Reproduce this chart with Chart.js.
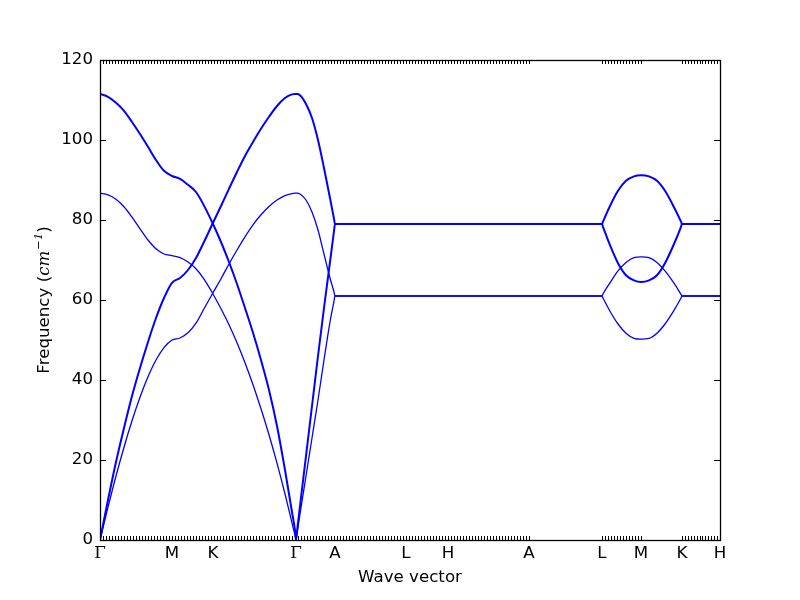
<!DOCTYPE html>
<html>
<head>
<meta charset="utf-8">
<script src="https://cdn.jsdelivr.net/npm/chart.js@4.4.0/dist/chart.umd.min.js"></script>
<style>
  html, body { margin: 0; padding: 0; background: #ffffff; }
</style>
</head>
<body>
<canvas id="bandChart" width="800" height="600"></canvas>
<script>
// high symmetry points along the path (distance units)
const kLabels = ["Γ", "M", "K", "Γ", "A", "L", "H", "A", "L", "M", "K", "H"];
const kLabelPos = [0, 0.72, 1.13, 1.96, 2.35, 3.06, 3.48, 4.29, 5.02, 5.41, 5.82, 6.2];

// sampled path positions, shared by every band
const kPath = [
  0, 0.08, 0.16, 0.24, 0.32, 0.40, 0.48, 0.56, 0.64, 0.72,
  0.80, 0.88, 0.96, 1.04, 1.13,
  1.21, 1.29, 1.37, 1.45, 1.53, 1.61, 1.69, 1.77, 1.85, 1.92, 1.95, 1.96, 1.97,
  2.00, 2.06, 2.12, 2.18, 2.24, 2.30, 2.34, 2.35,
  3.06, 3.48, 4.29, 5.02,
  5.03, 5.10, 5.18, 5.26, 5.34, 5.41,
  5.49, 5.57, 5.65, 5.74, 5.81, 5.82,
  6.20
];

// frequencies (cm^-1)
const bandA = [
  111.5, 110.8, 109.3, 107.3, 104.5, 101.5, 98.3, 95, 92.3, 91,
  90.3, 88.8, 87, 83.6, 79,
  74.5, 69.5, 64, 58, 51.8, 45, 37.5, 28.5, 17.5, 7, 2.4, 0, 2.1,
  8.5, 21, 33.5, 46, 58, 69.5, 77.2, 79,
  79, 79, 79, 79,
  79.6, 83.5, 87.3, 89.8, 90.9, 91.2,
  90.9, 89.8, 87.3, 83.2, 79.6, 79,
  79
];
const bandB = [
  0, 10, 19.5, 28, 36, 43, 49.5, 55.5, 60.5, 64.3,
  65.5, 67.5, 70.5, 74.5, 79.3,
  83.5, 87.8, 92, 96, 99.5, 102.8, 105.8, 108.5, 110.5, 111.4, 111.5, 111.5, 111.5,
  111.2, 109, 105.5, 100, 93, 85.5, 80.3, 79,
  79, 79, 79, 79,
  78.3, 73.7, 69.2, 66.2, 64.9, 64.5,
  64.9, 66.2, 69.2, 74, 78.3, 79,
  79
];
const bandC = [
  86.7, 86.3, 85.2, 83.3, 80.7, 77.8, 75, 72.8, 71.5, 71.1,
  70.6, 69.5, 67.8, 65.2, 61.5,
  57.8, 53.8, 49.3, 44.3, 38.8, 32.8, 26.3, 19.2, 11.5, 4.3, 1.2, 0, 1.6,
  6.5, 16, 25.5, 35, 45, 54.5, 59.7, 61,
  61, 61, 61, 61,
  61.5, 64.3, 67.3, 69.4, 70.6, 70.8,
  70.6, 69.4, 67.3, 64.2, 61.4, 61,
  61
];
const bandD = [
  0, 8.2, 16, 23.2, 29.8, 35.7, 40.8, 45, 48.1, 50,
  50.5, 51.8, 54.2, 57.8, 61.8,
  65.3, 69, 72.5, 75.8, 78.8, 81.3, 83.4, 85, 86.1, 86.6, 86.7, 86.7, 86.7,
  86.5, 85, 82, 77.5, 71.5, 65.5, 62, 61,
  61, 61, 61, 61,
  60.5, 57.2, 54, 51.7, 50.4, 50.2,
  50.4, 51.7, 54, 57.4, 60.5, 61,
  61
];

// stretches of the path where the sample ticks are drawn
const sampledRanges = [[0, 4.29], [5.02, 5.41], [5.82, 6.2]];

const fontSize = 16.67;

function toPoints(values) {
  return values.map((v, i) => ({ x: kPath[i], y: v }));
}

function bandDataset(values, width) {
  return {
    data: toPoints(values),
    borderColor: "#0000ff",
    borderWidth: width,
    pointRadius: 0,
    cubicInterpolationMode: "monotone",
    fill: false,
  };
}

// frame, inward ticks and the y title with math text
const framePlugin = {
  id: "frame",
  afterDatasetsDraw(chart) {
    const ctx = chart.ctx;
    const area = chart.chartArea;
    const xs = chart.scales.x;
    const ys = chart.scales.y;
    ctx.save();
    ctx.strokeStyle = "#000000";
    ctx.lineWidth = 1;
    ctx.beginPath();
    sampledRanges.forEach((r) => {
      const n = Math.round((r[1] - r[0]) / 0.03);
      for (let i = 0; i <= n; i++) {
        const px = Math.round(xs.getPixelForValue(r[0] + ((r[1] - r[0]) * i) / n)) + 0.5;
        ctx.moveTo(px, area.bottom);
        ctx.lineTo(px, area.bottom - 4);
        ctx.moveTo(px, area.top);
        ctx.lineTo(px, area.top + 4);
      }
    });
    ys.ticks.forEach((t) => {
      const py = Math.round(ys.getPixelForValue(t.value)) + 0.5;
      ctx.moveTo(area.left, py);
      ctx.lineTo(area.left + 6, py);
      ctx.moveTo(area.right, py);
      ctx.lineTo(area.right - 6, py);
    });
    ctx.stroke();
    ctx.lineWidth = 1.3;
    ctx.strokeRect(area.left + 0.5, area.top + 0.5, area.right - area.left, area.bottom - area.top);
    ctx.restore();

    // "Frequency (cm^-1)"
    const parts = [
      { text: "Frequency (", font: fontSize + "px 'DejaVu Sans'", dy: 0 },
      { text: "cm", font: "italic " + fontSize + "px 'DejaVu Serif'", dy: 0 },
      { text: "−1", font: "italic 11.5px 'DejaVu Serif'", dy: -7 },
      { text: ")", font: fontSize + "px 'DejaVu Sans'", dy: 0 },
    ];
    ctx.save();
    ctx.fillStyle = "#000000";
    ctx.textBaseline = "alphabetic";
    ctx.translate(49, (area.top + area.bottom) / 2);
    ctx.rotate(-Math.PI / 2);
    let total = 0;
    parts.forEach((p) => {
      ctx.font = p.font;
      p.w = ctx.measureText(p.text).width + (p.text === "cm" ? 1 : 0);
      total += p.w;
    });
    let cx = -total / 2;
    parts.forEach((p) => {
      ctx.font = p.font;
      ctx.fillText(p.text, cx, p.dy);
      cx += p.w;
    });
    ctx.restore();
  },
};

const chart = new Chart(document.getElementById("bandChart"), {
  type: "line",
  data: {
    datasets: [
      bandDataset(bandA, 2),
      bandDataset(bandB, 2),
      bandDataset(bandC, 1.3),
      bandDataset(bandD, 1.3),
    ],
  },
  options: {
    responsive: false,
    devicePixelRatio: 1,
    animation: false,
    layout: { padding: { left: 0, right: 80, top: 60, bottom: 0 } },
    plugins: { legend: { display: false }, tooltip: { enabled: false } },
    scales: {
      x: {
        type: "linear",
        min: 0,
        max: 6.2,
        afterBuildTicks: (scale) => {
          scale.ticks = kLabelPos.map((v) => ({ value: v }));
        },
        afterFit: (scale) => {
          scale.height = 60;
        },
        ticks: {
          autoSkip: false,
          maxRotation: 0,
          padding: 4,
          color: "#000000",
          callback: (value, index) => kLabels[index],
          font: (c) => ({
            family: kLabels[c.index] === "Γ" ? "DejaVu Serif" : "DejaVu Sans",
            size: fontSize,
          }),
        },
        grid: { display: false, drawTicks: false },
        border: { display: false },
        title: {
          display: true,
          text: "Wave vector",
          color: "#000000",
          font: { family: "DejaVu Sans", size: fontSize },
          padding: { top: 12, bottom: 12 },
        },
      },
      y: {
        min: 0,
        max: 120,
        afterFit: (scale) => {
          scale.width = 100;
        },
        ticks: {
          stepSize: 20,
          padding: 7,
          color: "#000000",
          font: { family: "DejaVu Sans", size: fontSize },
        },
        grid: { display: false, drawTicks: false },
        border: { display: false },
      },
    },
  },
  plugins: [framePlugin],
});
</script>
</body>
</html>
